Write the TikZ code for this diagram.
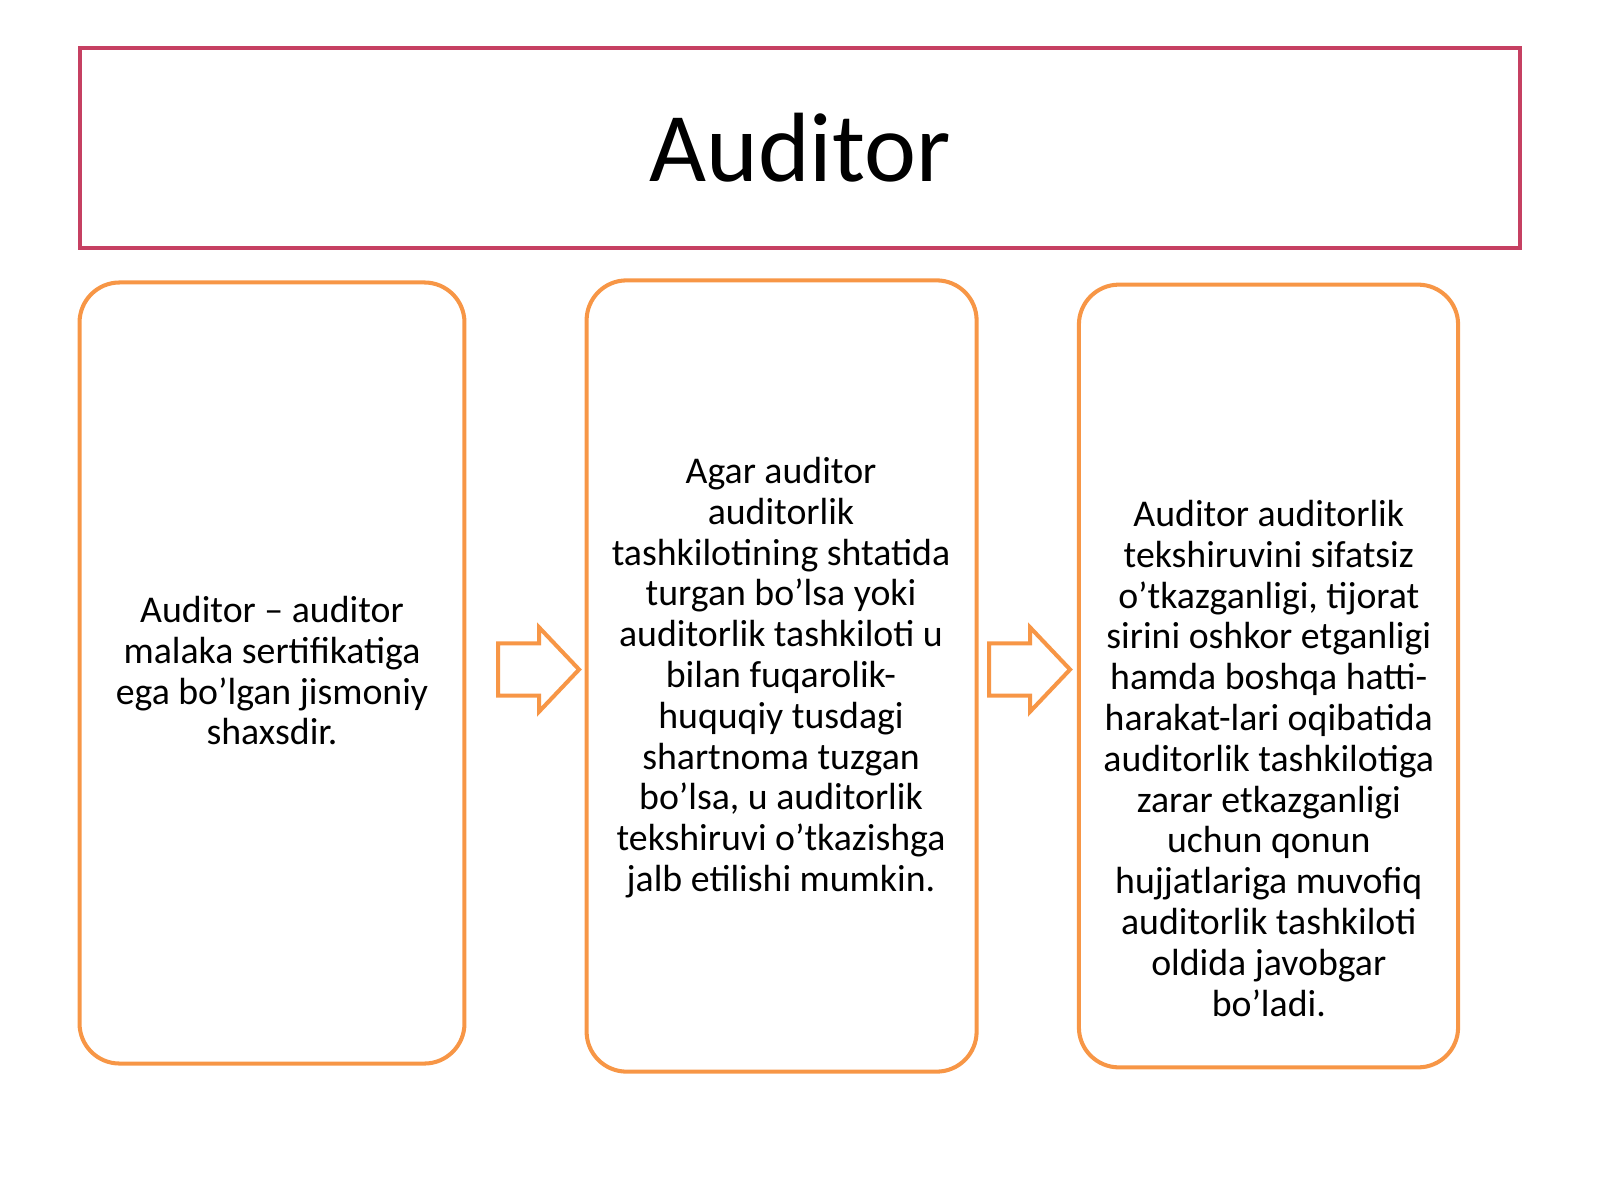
\documentclass[tikz,border=0pt]{standalone}
\usepackage{fontspec}
\setmainfont{Carlito}
\usetikzlibrary{shapes.arrows, positioning}
\definecolor{titlered}{RGB}{198,64,98}
\definecolor{cardorange}{RGB}{247,150,70}
\begin{document}
\begin{tikzpicture}[x=0.01cm, y=-0.01cm,
    headbox/.style={draw=titlered, line width=1.15pt, minimum width=14.40cm, minimum height=2cm, inner sep=0pt, font=\fontsize{28}{34}\selectfont},
    card/.style={draw=cardorange, line width=1.15pt, rounded corners=0.4cm, inner sep=0pt},
    cardtext/.style={align=center, inner sep=0pt, font=\fontsize{10.75}{11.6}\selectfont},
    flow/.style={single arrow, draw=cardorange, fill=white, line width=1.15pt, minimum height=0.81cm, minimum width=0.835cm, single arrow head extend=0.16cm, single arrow tip angle=93, inner xsep=0pt, inner ysep=0.24cm, anchor=tail}]
            \useasboundingbox (0,0) rectangle (1600,1200);
            \node[headbox] (title) at (800,148) {Auditor};

            \node[card, minimum width=3.847cm, minimum height=7.806cm] (box1) at (272,673) {};
            \node[card, minimum width=3.898cm, minimum height=7.908cm] (box2) at (781.6,676) {};
            \node[card, minimum width=3.79cm, minimum height=7.823cm] (box3) at (1268.5,676) {};

            \node[flow] (a1) at (496,669.5) {};
            \node[flow] (a2) at (987,669.5) {};

            \node[cardtext, anchor=north] (txt1) at (272,595.6) {Auditor – auditor\\ malaka sertifikatiga\\ ega bo’lgan jismoniy\\ shaxsdir.};
            \node[cardtext, anchor=north] (txt2) at (781,456.6) {Agar auditor\\ auditorlik\\ tashkilotining shtatida\\ turgan bo’lsa yoki\\ auditorlik tashkiloti u\\ bilan fuqarolik-\\ huquqiy tusdagi\\ shartnoma tuzgan\\ bo’lsa, u auditorlik\\ tekshiruvi o’tkazishga\\ jalb etilishi mumkin.};
            \node[cardtext, anchor=north] (txt3) at (1268.8,499.6) {Auditor auditorlik\\ tekshiruvini sifatsiz\\ o’tkazganligi, tijorat\\ sirini oshkor etganligi\\ hamda boshqa hatti-\\ harakat-lari oqibatida\\ auditorlik tashkilotiga\\ zarar etkazganligi\\ uchun qonun\\ hujjatlariga muvofiq\\ auditorlik tashkiloti\\ oldida javobgar\\ bo’ladi.};
        \end{tikzpicture}
\end{document}
